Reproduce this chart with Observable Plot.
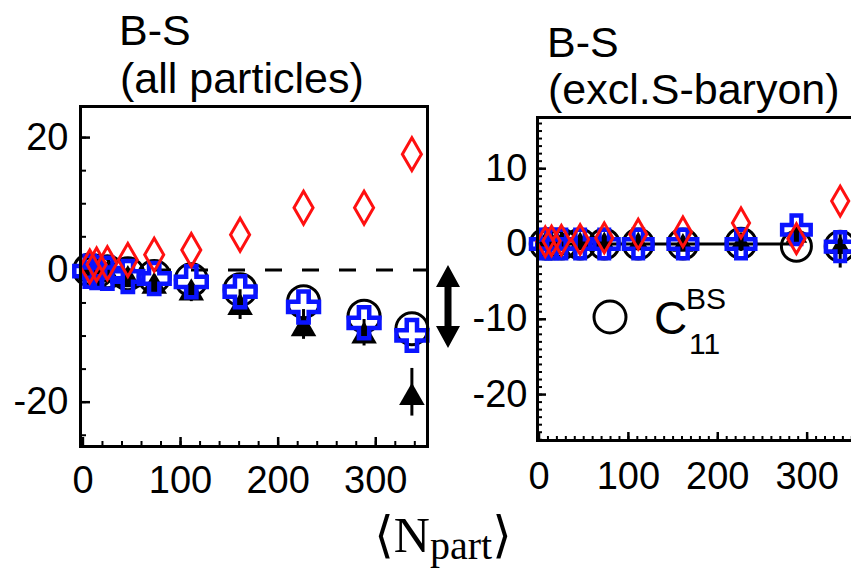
<!DOCTYPE html>
<html><head><meta charset="utf-8">
<script src="https://cdn.jsdelivr.net/npm/d3@7"></script>
<script src="https://cdn.jsdelivr.net/npm/@observablehq/plot@0.6"></script>
<style>
html,body{margin:0;padding:0;background:#fff;}
#wrap{position:relative;width:851px;height:570px;overflow:hidden;background:#fff;}
#wrap > svg{position:absolute;}
</style></head><body>
<div id="wrap"></div>
<script>
// x values: <N_part>
const npart = [7, 14, 25, 46, 73, 111, 161, 226, 288, 337];

// Left panel: B-S (all particles)
const circleAll   = [0, -0.2, -0.3, -0.6, -1.0, -1.5, -3.0, -4.8, -7.0, -8.9];
const diamondAll  = [0.5, 0.8, 1.0, 1.5, 2.3, 3.0, 5.3, 9.4, 9.4, 17.5];
const crossAll    = [-0.2, -0.4, -0.5, -1.0, -1.3, -1.8, -3.3, -5.6, -8.0, -9.9];
const triAll      = [-0.3, -0.5, -0.8, -1.5, -2.5, -3.5, -5.7, -8.9, -10.0, -19.3];
const triAllLo    = [-0.6, -0.9, -1.3, -2.2, -3.5, -4.8, -7.5, -10.5, -11.5, -22.1];
const triAllHi    = [0, -0.1, -0.3, -0.8, -1.5, -2.0, -3.0, -6.0, -7.5, -14.9];

// Right panel: B-S (excl. S-baryon)
const circleExcl  = [0, 0, 0, 0, 0, 0, 0, 0.1, -0.3, -0.3];
const diamondExcl = [0.3, 0.4, 0.5, 0.6, 0.8, 1.3, 1.6, 2.8, 0.7, 5.7];
const crossExcl   = [0, 0, 0, 0, 0, 0, 0, 0, 1.9, -0.35];
const triExcl     = [0, 0, 0, 0, 0, 0, -0.2, 0, 1.0, -0.5];
const triExclLo   = [-0.5, -0.5, -0.5, -0.6, -0.6, -0.8, -1.0, -1.0, 0, -3.2];
const triExclHi   = [0.5, 0.5, 0.5, 0.6, 0.6, 0.8, 1.0, 1.0, 2.0, 1.7];

const xTicks = [0, 100, 200, 300];
const yTicksAll = [-20, 0, 20];
const yTicksExcl = [-20, -10, 0, 10];

const BLUE = "#0a14ff", RED = "#ff1010";
const FONT = "'Liberation Sans', Arial, Helvetica, sans-serif";

function rows(ys, lo, hi) {
  return npart.map((x, i) => ({x, y: ys[i], lo: lo ? lo[i] : null, hi: hi ? hi[i] : null}));
}
function range(a, b, s) { const r = []; for (let v = a; v <= b + 1e-9; v += s) r.push(+v.toFixed(6)); return r; }

function panel(o) {
  const innerW = o.width - o.ml - o.mr, innerH = o.height - o.mt - o.mb;
  const circ = rows(o.circle), dia = rows(o.diamond), crs = rows(o.cross), tri = rows(o.tri, o.triLo, o.triHi);
  return Plot.plot({
    width: o.width, height: o.height,
    marginLeft: o.ml, marginRight: o.mr, marginTop: o.mt, marginBottom: o.mb,
    style: {fontSize: "38px", fontFamily: FONT, color: "black", background: "transparent", overflow: "visible"},
    x: {domain: o.xdom, ticks: xTicks, tickSize: 0, tickPadding: o.xpad, tickFormat: d => `${d}`, label: null},
    y: {domain: o.ydom, ticks: o.yTicks, tickSize: 0, tickPadding: o.ypad, tickFormat: d => `${d}`, label: null},
    marks: [
      // inward ticks
      Plot.tickX(o.xMinor, {x: d => d, insetTop: innerH - o.xMinLen, strokeWidth: 2}),
      Plot.tickX(xTicks, {x: d => d, insetTop: innerH - o.xMajLen, strokeWidth: 2.5}),
      Plot.tickY(o.yMinor, {y: d => d, insetRight: innerW - o.yMinLen, strokeWidth: 2}),
      Plot.tickY(o.yTicks, {y: d => d, insetRight: innerW - o.yMajLen, strokeWidth: 2.5}),
      ...o.zero,
      Plot.dot(circ, {x: "x", y: "y", r: o.rc, stroke: "black", strokeWidth: 3, fill: "none"}),
      Plot.ruleX(tri, {x: "x", y1: "lo", y2: "hi", stroke: "black", strokeWidth: 3}),
      Plot.dot(tri, {x: "x", y: "y", symbol: "triangle", r: o.rt, fill: "black", stroke: "none"}),
      Plot.dot(crs, {x: "x", y: "y", symbol: "cross", r: o.rx, stroke: BLUE, strokeWidth: 4.5, fill: "none"}),
      Plot.dot(dia, {x: "x", y: "y", symbol: "diamond", r: o.rd, stroke: RED, strokeWidth: 3, fill: "none"}),
      Plot.frame({strokeWidth: 3})
    ]
  });
}

const left = panel({
  width: 440, height: 500, ml: 80, mr: 13, mt: 106, mb: 54,
  xdom: [-2.5, 353], ydom: [-26.7, 24.7],
  yTicks: yTicksAll, yMinor: range(-25, 20, 5),
  xMinor: range(20, 340, 20),
  xpad: 20, ypad: 12, xMajLen: 9, xMinLen: 5, yMajLen: 10, yMinLen: 6,
  circle: circleAll, diamond: diamondAll, cross: crossAll, tri: triAll, triLo: triAllLo, triHi: triAllHi,
  rc: 16, rt: 9.5, rx: 13, rd: 10,
  zero: [Plot.ruleY([0], {stroke: "black", strokeWidth: 3, strokeDasharray: "17,20"})]
});
left.style.left = "0px"; left.style.top = "0px";

const right = panel({
  width: 430, height: 500, ml: 97, mr: 16, mt: 117, mb: 60,
  xdom: [-1.7, 353], ydom: [-26.1, 16.8],
  yTicks: yTicksExcl, yMinor: range(-26, 16, 1),
  xMinor: range(10, 350, 10),
  xpad: 22, ypad: 10, xMajLen: 8, xMinLen: 4, yMajLen: 9, yMinLen: 5,
  circle: circleExcl, diamond: diamondExcl, cross: crossExcl, tri: triExcl, triLo: triExclLo, triHi: triExclHi,
  rc: 15, rt: 8, rx: 12, rd: 9,
  zero: [Plot.ruleY([0], {x1: npart[0] - 7, x2: npart[8], stroke: "black", strokeWidth: 3})]
});
right.style.left = "440px"; right.style.top = "0px";

const wrap = document.getElementById("wrap");
wrap.appendChild(left);
wrap.appendChild(right);

// overlay: titles, arrow, legend, axis label
const ns = "http://www.w3.org/2000/svg";
const ov = document.createElementNS(ns, "svg");
ov.setAttribute("width", 851); ov.setAttribute("height", 570);
ov.style.left = "0px"; ov.style.top = "0px"; ov.style.pointerEvents = "none";
ov.innerHTML = `
<g font-family="${FONT}" font-size="43" fill="black">
  <text x="119" y="45">B-S</text>
  <text x="120" y="93">(all particles)</text>
  <text x="547" y="57">B-S</text>
  <text x="548" y="104">(excl.S-baryon)</text>
</g>
<path d="M448,265 L460,287 L451.5,287 L451.5,326 L460,326 L448,348 L436,326 L444.5,326 L444.5,287 L436,287 Z" fill="black"/>
<circle cx="610" cy="317" r="16" fill="none" stroke="black" stroke-width="3"/>
<g font-family="${FONT}" fill="black">
  <text x="654" y="334" font-size="46">C</text>
  <text x="686" y="309" font-size="30">BS</text>
  <text x="689" y="354" font-size="30">11</text>
</g>
<text x="443" y="552" text-anchor="middle" font-family="'Liberation Serif', 'DejaVu Serif', serif" font-size="50" fill="black">⟨N<tspan font-size="40" dy="7">part</tspan><tspan dy="-7">⟩</tspan></text>
`;
wrap.appendChild(ov);
</script>
</body></html>
